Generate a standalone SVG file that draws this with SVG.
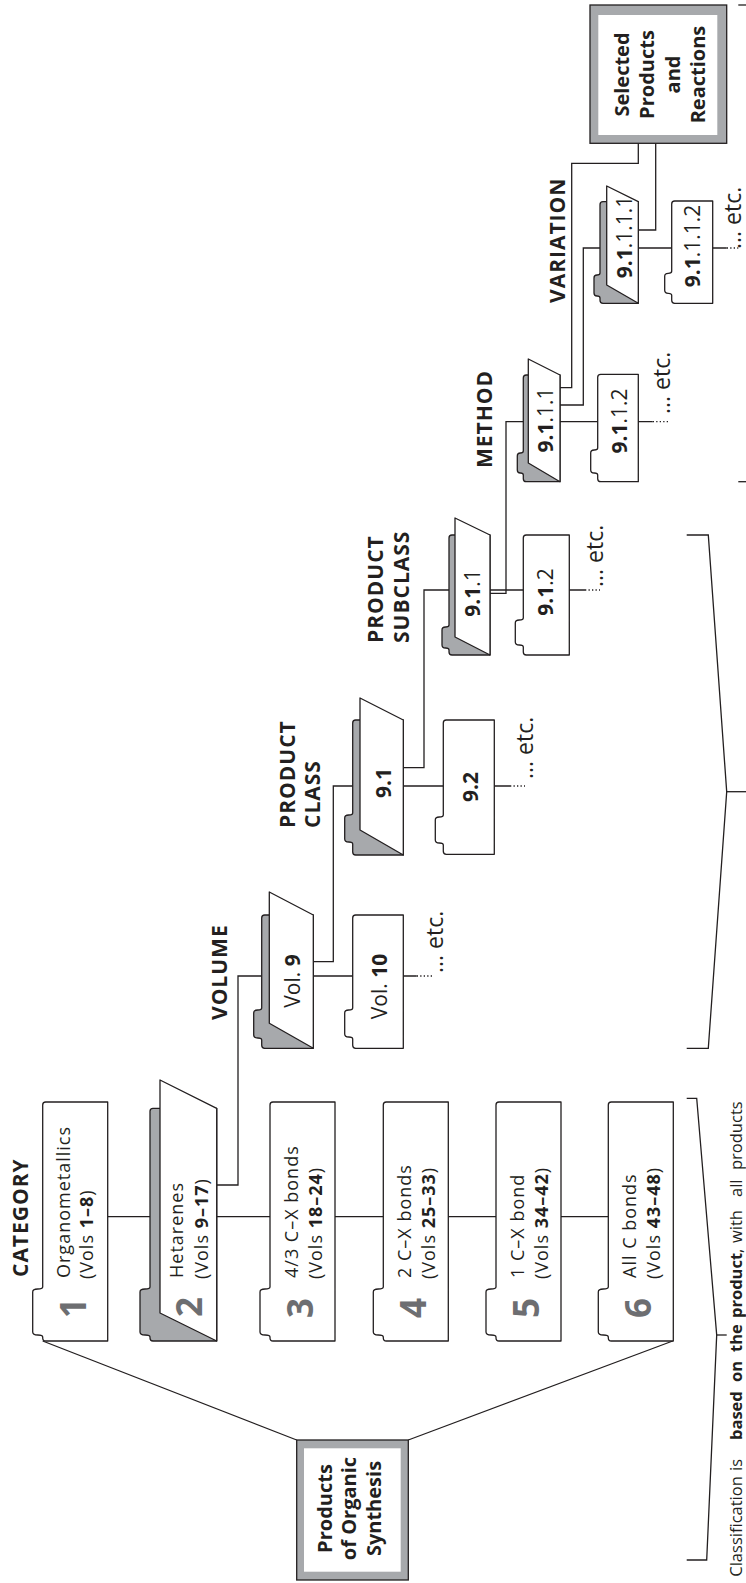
<svg xmlns="http://www.w3.org/2000/svg" xmlns:xlink="http://www.w3.org/1999/xlink" width="746" height="1583" viewBox="0 0 746 1583">
<style>
.ln{fill:none;stroke:#231f20;stroke-width:1.3}
.dot{fill:none;stroke:#231f20;stroke-width:1.3;stroke-dasharray:1.3 2.2}
.fold{fill:#fff;stroke:#231f20;stroke-width:1.3;stroke-linejoin:round}
.back{fill:#a7a9ac;stroke:#231f20;stroke-width:1.3;stroke-linejoin:round}
.front{fill:#fff;stroke:#231f20;stroke-width:1.3;stroke-linejoin:round}
.frame{fill:#a7a9ac;stroke:#231f20;stroke-width:1.3}
.inner{fill:#fff;stroke:none}
text{font-family:'Open Sans','Liberation Sans',sans-serif;fill:#231f20}
.cat{font-size:18px;letter-spacing:1px}
.dig{font-size:35px;font-weight:700;fill:#6d6e71}
.num{font-size:21px;text-anchor:middle}
.lab{font-size:21px;font-weight:700;letter-spacing:1px}
.big{font-size:20px;font-weight:700;text-anchor:middle}
.etc{font-size:23px}
.b{font-weight:700}
.note{font-size:16.5px}
</style>
<defs>
<path id="fcat" d="M0,65 L0,3 Q0,0 3,0 L4,0 Q6,0 6,-5 Q6,-10 9,-10 L49,-10 Q52,-10 52,-5 Q52,0 54,0 L236,0 Q239,0 239,3 L239,65 Z"/>
</defs>
<rect width="746" height="1583" fill="#fff"/>
<g transform="translate(0,1583) rotate(-90)">
<g id="connectors">
<line class="ln" x1="143" y1="296.7" x2="242" y2="42.7"/>
<line class="ln" x1="143" y1="408.3" x2="242" y2="672.7"/>
<line class="ln" x1="366.3" y1="107.7" x2="366.3" y2="608.3"/>
<polyline class="ln" points="398,216.7 398,238 607,238 607,416.7"/>
<line class="dot" x1="607" y1="416.7" x2="607" y2="433.3"/>
<polyline class="ln" points="621.3,313.3 621.3,333.3 797,333.3 797,510"/>
<line class="dot" x1="797" y1="510" x2="797" y2="525"/>
<polyline class="ln" points="815.3,403.3 815.3,424 993,424 993,585"/>
<line class="dot" x1="993" y1="585" x2="993" y2="600"/>
<polyline class="ln" points="989.7,490 989.7,506 1161.3,506 1161.3,652.7"/>
<line class="dot" x1="1161.3" y1="652.7" x2="1161.3" y2="669.3"/>
<polyline class="ln" points="1195.3,560 1195.3,571.7 1419.7,571.7 1419.7,638.3 1439.7,638.3"/>
<polyline class="ln" points="1178,560 1178,583.3 1335,583.3 1335,726.7"/>
<line class="dot" x1="1335" y1="726.7" x2="1335" y2="738.3"/>
<polyline class="ln" points="1353,638.3 1353,655.7 1439.7,655.7"/>
</g>
<g id="brackets">
<polyline class="ln" points="23,686.7 23,706.7 248,716.7 484.7,696.7 484.7,686.7"/>
<line class="ln" x1="248" y1="716.7" x2="248" y2="726.7"/>
<polyline class="ln" points="534.7,686.7 534.7,708.3 791.3,726.7 1048,708.3 1048,686.7"/>
<line class="ln" x1="791.3" y1="726.7" x2="791.3" y2="746"/>
<line class="ln" x1="1101.3" y1="738.3" x2="1101.3" y2="746"/>
<line class="ln" x1="1578" y1="738.3" x2="1578" y2="746"/>
</g>
<g id="labels">
<text class="lab" x="306" y="28">CATEGORY</text>
<text class="lab" x="563" y="227">VOLUME</text>
<text class="lab" x="755" y="295">PRODUCT</text>
<text class="lab" x="755" y="320">CLASS</text>
<text class="lab" x="940" y="383">PRODUCT</text>
<text class="lab" x="940" y="409">SUBCLASS</text>
<text class="lab" x="1115" y="492">METHOD</text>
<text class="lab" x="1280" y="565">VARIATION</text>
</g>
<g id="products-of-organic-synthesis">
<rect class="frame" x="3" y="296.7" width="140" height="111.6"/>
<rect class="inner" x="11.3" y="304" width="123.4" height="96.7"/>
<text class="big" x="74.5" y="331.5">Products</text>
<text class="big" x="74.5" y="356">of Organic</text>
<text class="big" x="74.5" y="380.5">Synthesis</text>
</g>
<g id="cat1">
<use href="#fcat" xlink:href="#fcat" class="fold" x="242" y="42.7"/>
<text class="dig" x="265" y="85.7">1</text>
<text class="cat" x="305" y="70">Organometallics</text>
<text class="cat" x="304" y="93">(Vols <tspan class="b">1–8</tspan>)</text>
</g>
<g id="cat2">
<path class="back" d="M242,216.7 L242,153 Q242,150 245,150 L246,150 Q248,150 248,145 Q248,140 251,140 L291,140 Q294,140 294,145 Q294,150 296,150 L471.7,150 Q474.7,150 474.7,153 L474.7,216.7 Z"/>
<path class="front" d="M242,216.7 L270,160 L503,160 L474.7,216.7 Z"/>
<text class="dig" x="266" y="201.7">2</text>
<text class="cat" x="305" y="183.3">Hetarenes</text>
<text class="cat" x="304" y="208">(Vols <tspan class="b">9–17</tspan>)</text>
</g>
<g id="cat3">
<use href="#fcat" xlink:href="#fcat" class="fold" x="242" y="270"/>
<text class="dig" x="265" y="313">3</text>
<text class="cat" x="305" y="298">4/3 C–X bonds</text>
<text class="cat" x="304" y="321.5">(Vols <tspan class="b">18–24</tspan>)</text>
</g>
<g id="cat4">
<use href="#fcat" xlink:href="#fcat" class="fold" x="242" y="383.3"/>
<text class="dig" x="265" y="425.8">4</text>
<text class="cat" x="305" y="411.3">2 C–X bonds</text>
<text class="cat" x="304" y="434.8">(Vols <tspan class="b">25–33</tspan>)</text>
</g>
<g id="cat5">
<use href="#fcat" xlink:href="#fcat" class="fold" x="242" y="496"/>
<text class="dig" x="265" y="538.5">5</text>
<text class="cat" x="305" y="524">1 C–X bond</text>
<text class="cat" x="304" y="547.5">(Vols <tspan class="b">34–42</tspan>)</text>
</g>
<g id="cat6">
<use href="#fcat" xlink:href="#fcat" class="fold" x="242" y="608.3"/>
<text class="dig" x="265" y="650.8">6</text>
<text class="cat" x="305" y="636.3">All C bonds</text>
<text class="cat" x="304" y="659.8">(Vols <tspan class="b">43–48</tspan>)</text>
</g>
<g id="vol9">
<path class="back" d="M534.7,313.3 L534.7,264.7 Q534.7,261.7 537.7,261.7 L543,261.7 Q545,261.7 545,257.7 Q545,253.7 548,253.7 L570,253.7 Q573,253.7 573,257.7 Q573,261.7 575,261.7 L665,261.7 Q668,261.7 668,264.7 L668,313.3 Z"/>
<path class="front" d="M534.7,313.3 L559.7,269.3 L691,269.3 L668,313.3 Z"/>
<text class="num" x="602" y="300">Vol. <tspan class="b">9</tspan></text>
</g>
<g id="vol10">
<path class="fold" d="M534.7,403.3 L534.7,355.7 Q534.7,352.7 537.7,352.7 L544,352.7 Q546,352.7 546,348.7 Q546,344.7 549,344.7 L570,344.7 Q573,344.7 573,348.7 Q573,352.7 575,352.7 L665,352.7 Q668,352.7 668,355.7 L668,403.3 Z"/>
<text class="num" x="596.5" y="387">Vol. <tspan class="b">10</tspan></text>
<text class="etc" x="610" y="443.3">... etc.</text>
</g>
<g id="class-9-1">
<path class="back" d="M728,403.3 L728,355.7 Q728,352.7 731,352.7 L739,352.7 Q741,352.7 741,348.7 Q741,344.7 744,344.7 L765,344.7 Q768,344.7 768,348.7 Q768,352.7 770,352.7 L860,352.7 Q863,352.7 863,355.7 L863,403.3 Z"/>
<path class="front" d="M728,403.3 L753,360 L885,360 L863,403.3 Z"/>
<text class="num b" x="800" y="390.7">9.1</text>
</g>
<g id="class-9-2">
<path class="fold" d="M728.7,494.3 L728.7,446.3 Q728.7,443.3 731.7,443.3 L738,443.3 Q740,443.3 740,439.3 Q740,435.3 743,435.3 L763,435.3 Q766,435.3 766,439.3 Q766,443.3 768,443.3 L860,443.3 Q863,443.3 863,446.3 L863,494.3 Z"/>
<text class="num b" x="796" y="478.3">9.2</text>
<text class="etc" x="804" y="533">... etc.</text>
</g>
<g id="subclass-9-1-1">
<path class="back" d="M928,490 L928,452 Q928,449 931,449 L933,449 Q935,449 935,445.5 Q935,442 938,442 L953,442 Q956,442 956,445.5 Q956,449 958,449 L1045,449 Q1048,449 1048,452 L1048,490 Z"/>
<path class="front" d="M928,490 L946,455 L1065,455 L1048,490 Z"/>
<text class="num" x="990" y="480"><tspan class="b">9.1</tspan>.1</text>
</g>
<g id="subclass-9-1-2">
<path class="fold" d="M928,569.3 L928,526.3 Q928,523.3 931,523.3 L936,523.3 Q938,523.3 938,519.3 Q938,515.3 941,515.3 L960,515.3 Q963,515.3 963,519.3 Q963,523.3 965,523.3 L1045,523.3 Q1048,523.3 1048,526.3 L1048,569.3 Z"/>
<text class="num" x="991" y="553.3"><tspan class="b">9.1</tspan>.2</text>
<text class="etc" x="996" y="603">... etc.</text>
</g>
<g id="method-9-1-1-1">
<path class="back" d="M1101.3,560 L1101.3,526.3 Q1101.3,523.3 1104.3,523.3 L1108,523.3 Q1110,523.3 1110,520.3 Q1110,517.3 1113,517.3 L1127,517.3 Q1130,517.3 1130,520.3 Q1130,523.3 1132,523.3 L1205,523.3 Q1208,523.3 1208,526.3 L1208,560 Z"/>
<path class="front" d="M1101.3,560 L1120,528.3 L1224,528.3 L1208,560 Z"/>
<text class="num" x="1163" y="553.3"><tspan class="b">9.1</tspan>.1.1</text>
</g>
<g id="method-9-1-1-2">
<path class="fold" d="M1101.3,638.3 L1101.3,600.7 Q1101.3,597.7 1104.3,597.7 L1108,597.7 Q1110,597.7 1110,594.2 Q1110,590.7 1113,590.7 L1130,590.7 Q1133,590.7 1133,594.2 Q1133,597.7 1135,597.7 L1205.7,597.7 Q1208.7,597.7 1208.7,600.7 L1208.7,638.3 Z"/>
<text class="num" x="1162" y="626.7"><tspan class="b">9.1</tspan>.1.2</text>
<text class="etc" x="1169" y="670">... etc.</text>
</g>
<g id="variation-9-1-1-1-1">
<path class="back" d="M1279.7,638.3 L1279.7,603 Q1279.7,600 1282.7,600 L1285,600 Q1287,600 1287,597 Q1287,594 1290,594 L1305,594 Q1308,594 1308,597 Q1308,600 1310,600 L1378.3,600 Q1381.3,600 1381.3,603 L1381.3,638.3 Z"/>
<path class="front" d="M1279.7,638.3 L1298,606.7 L1397,606.7 L1381.3,638.3 Z"/>
<text class="num" x="1346" y="631.7"><tspan class="b">9.1</tspan>.1.1.1</text>
</g>
<g id="variation-9-1-1-1-2">
<path class="fold" d="M1279.7,712.7 L1279.7,674.7 Q1279.7,671.7 1282.7,671.7 L1287.7,671.7 Q1289.7,671.7 1289.7,668.2 Q1289.7,664.7 1292.7,664.7 L1306.7,664.7 Q1309.7,664.7 1309.7,668.2 Q1309.7,671.7 1311.7,671.7 L1379,671.7 Q1382,671.7 1382,674.7 L1382,712.7 Z"/>
<text class="num" x="1337" y="700"><tspan class="b">9.1</tspan>.1.1.2</text>
<text class="etc" x="1334" y="741">... etc.</text>
</g>
<g id="selected-products-and-reactions">
<rect class="frame" x="1439.7" y="590" width="138.3" height="136.7"/>
<rect class="inner" x="1448" y="598.3" width="120" height="119"/>
<text class="big" x="1508.5" y="628.5">Selected</text>
<text class="big" x="1508.5" y="654">Products</text>
<text class="big" x="1508.5" y="679.5">and</text>
<text class="big" x="1508.5" y="705">Reactions</text>
</g>
<g id="note">
<text class="note" y="742"><tspan x="6.3">Classification</tspan><tspan x="112">is</tspan><tspan class="b" x="143">based</tspan><tspan class="b" x="201">on</tspan><tspan class="b" x="231">the</tspan><tspan class="b" x="265">product</tspan>,<tspan x="340">with</tspan><tspan x="386">all</tspan><tspan x="413">products</tspan></text>
</g>
</g>
</svg>
